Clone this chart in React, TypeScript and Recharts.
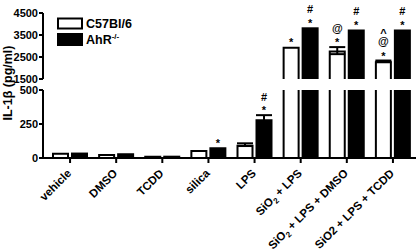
import React from 'react';
import { BarChart, Bar, XAxis, YAxis, ErrorBar } from 'recharts';

// values (IL-1b, pg/ml)
const categories = ['vehicle', 'DMSO', 'TCDD', 'silica', 'LPS', 'SiO₂ + LPS', 'SiO₂ + LPS + DMSO', 'SiO2 + LPS + TCDD'];
const c57Values = [38, 29, 16, 59, 98, 2970, 2790, 2310];
const c57Errors = [null, null, null, null, 10, null, 160, 30];
const ahrValues = [40, 35, 17, 79, 285, 3850, 3750, 3750];
const ahrErrors = [null, null, null, null, 30, null, null, null];
const c57Marks = [[], [], [], [], [], ['*'], ['*', '@'], ['*', '@', '^']];
const ahrMarks = [[], [], [], ['*'], ['*', '#'], ['*', '#'], ['*', '#'], ['*', '#']];
const upperTicks = [1500, 2500, 3500, 4500];
const lowerTicks = [0, 250, 500];

const FONT = 'Arial, "Liberation Sans", sans-serif';
const W = 417;
const H = 251;
const BREAK_LOW = 500;
const BREAK_HIGH = 1500;

// glyph centre above baseline, in px at 11px
const glyphLift: Record<string, number> = { '*': 6.3, '#': 4, '@': 3, '^': 6.3 };

const lowerData = categories.map((c, i) => ({
  name: c,
  c57: c57Values[i],
  c57Err: c57Values[i] > BREAK_LOW ? null : c57Errors[i],
  ahr: ahrValues[i],
  ahrErr: ahrValues[i] > BREAK_LOW ? null : ahrErrors[i],
}));

const upperData = categories.map((c, i) => ({
  name: c,
  c57: c57Values[i] >= BREAK_HIGH ? c57Values[i] : null,
  c57Err: c57Values[i] >= BREAK_HIGH ? c57Errors[i] : null,
  ahr: ahrValues[i] >= BREAK_HIGH ? ahrValues[i] : null,
  ahrErr: ahrValues[i] >= BREAK_HIGH ? ahrErrors[i] : null,
}));

const makeShape = (
  filled: boolean,
  values: number[],
  errors: (number | null)[],
  marks: string[][],
  base: number,
  showMarks: (v: number) => boolean,
) => (props: any) => {
  const { x, y, width, height, payload } = props;
  if (height == null || width == null) return <g />;
  const i = categories.indexOf(payload?.name);
  if (i < 0) return <g />;
  const v = values[i];
  const pxPerUnit = height / (v - base);
  const err = errors[i] || 0;
  const top = y - err * pxPerUnit;
  const bar = filled ? (
    <rect x={x} y={y} width={width} height={height} fill="#000" />
  ) : (
    <path
      d={`M${x + 1},${y + height} L${x + 1},${y + 1} L${x + width - 1},${y + 1} L${x + width - 1},${y + height}`}
      fill="#fff"
      stroke="#000"
      strokeWidth={2}
    />
  );
  return (
    <g>
      {bar}
      {showMarks(v) &&
        marks[i].map((m, k) => (
          <text
            key={k}
            x={x + width / 2}
            y={top - 7 - 11.5 * k + glyphLift[m]}
            textAnchor="middle"
            fontSize={11}
            fontWeight="bold"
            fontFamily={FONT}
            fill="#000"
          >
            {m}
          </text>
        ))}
    </g>
  );
};

const XTick = (props: any) => {
  const { x, y, payload } = props;
  const label: string = payload.value;
  const parts = label.split('₂');
  return (
    <g transform={`translate(${x + 2},${y + 9})`}>
      <text transform="rotate(-45)" textAnchor="end" fontSize={11.5} fontWeight="bold" fontFamily={FONT} fill="#000">
        {parts.length > 1 ? (
          <>
            {parts[0]}
            <tspan fontSize={8} dy={3}>2</tspan>
            <tspan dy={-3}>{parts[1]}</tspan>
          </>
        ) : (
          label
        )}
      </text>
    </g>
  );
};

const yTickStyle = { fontSize: 11, fontWeight: 'bold', fontFamily: FONT, fill: '#000' };
const axisStroke = { stroke: '#000', strokeWidth: 2 };

const App: React.FC = () => (
  <div style={{ position: 'absolute', left: 0, top: 0, width: W, height: H, background: '#fff' }}>
    {/* upper panel: 1500 - 4500 */}
    <div style={{ position: 'absolute', left: 0, top: 0 }}>
      <BarChart width={W} height={H} data={upperData} margin={{ top: 13, right: 1, bottom: 172, left: 0 }} barSize={17} barGap={2}>
        <XAxis dataKey="name" hide padding={{ left: 4, right: 0 }} />
        <YAxis
          type="number"
          domain={[1500, 4500]}
          ticks={upperTicks}
          width={43}
          tickSize={4}
          tickMargin={1}
          tick={yTickStyle}
          axisLine={axisStroke}
          tickLine={axisStroke}
        />
        <Bar dataKey="c57" isAnimationActive={false} shape={makeShape(false, c57Values, c57Errors, c57Marks, 1500, (v) => v >= BREAK_HIGH)}>
          <ErrorBar dataKey="c57Err" width={8} stroke="#000" strokeWidth={2} />
        </Bar>
        <Bar dataKey="ahr" isAnimationActive={false} shape={makeShape(true, ahrValues, ahrErrors, ahrMarks, 1500, (v) => v >= BREAK_HIGH)}>
          <ErrorBar dataKey="ahrErr" width={8} stroke="#000" strokeWidth={2} />
        </Bar>
      </BarChart>
    </div>
    {/* lower panel: 0 - 500 */}
    <div style={{ position: 'absolute', left: 0, top: 0 }}>
      <BarChart width={W} height={H} data={lowerData} margin={{ top: 90, right: 1, bottom: 0, left: 0 }} barSize={17} barGap={2}>
        <XAxis
          dataKey="name"
          height={93}
          interval={0}
          padding={{ left: 4, right: 0 }}
          tickSize={5}
          tick={<XTick />}
          axisLine={axisStroke}
          tickLine={axisStroke}
        />
        <YAxis
          type="number"
          domain={[0, 500]}
          ticks={lowerTicks}
          allowDataOverflow
          width={43}
          tickSize={4}
          tickMargin={1}
          tick={yTickStyle}
          axisLine={axisStroke}
          tickLine={axisStroke}
        />
        <Bar dataKey="c57" isAnimationActive={false} shape={makeShape(false, c57Values, c57Errors, c57Marks, 0, (v) => v <= BREAK_LOW)}>
          <ErrorBar dataKey="c57Err" width={8} stroke="#000" strokeWidth={2} />
        </Bar>
        <Bar dataKey="ahr" isAnimationActive={false} shape={makeShape(true, ahrValues, ahrErrors, ahrMarks, 0, (v) => v <= BREAK_LOW)}>
          <ErrorBar dataKey="ahrErr" width={8} stroke="#000" strokeWidth={2} />
        </Bar>
      </BarChart>
    </div>
    {/* legend + y label */}
    <svg width={W} height={H} style={{ position: 'absolute', left: 0, top: 0, pointerEvents: 'none' }}>
      <text
        transform="translate(12,83) rotate(-90)"
        textAnchor="middle"
        fontSize={12.5}
        fontWeight="bold"
        fontFamily={FONT}
        fill="#000"
      >
        IL-1β (pg/ml)
      </text>
      <rect x={58} y={18.5} width={24} height={10} fill="#fff" stroke="#000" strokeWidth={2} />
      <rect x={57} y={33} width={26} height={13} fill="#000" />
      <text x={86} y={27.5} fontSize={12.5} fontWeight="bold" fontFamily={FONT} fill="#000">
        C57Bl/6
      </text>
      <text x={86} y={44} fontSize={12.5} fontWeight="bold" fontFamily={FONT} fill="#000">
        AhR
        <tspan fontSize={8} dy={-5}>-/-</tspan>
      </text>
    </svg>
  </div>
);

export default App;
